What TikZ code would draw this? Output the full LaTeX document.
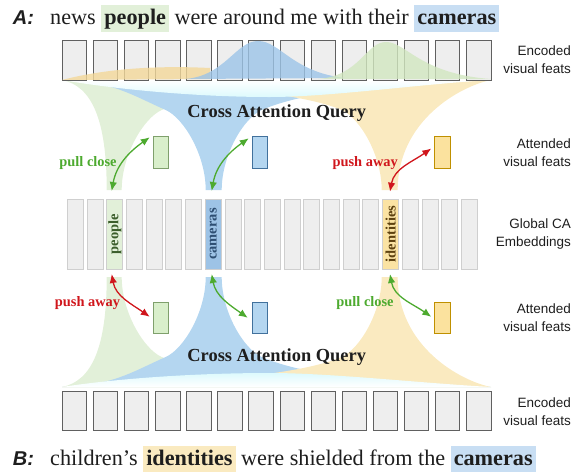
\documentclass[tikz,border=0pt]{standalone}
\usepackage{fontspec}
\setmainfont{Liberation Serif}
\setsansfont{Liberation Sans}
\usetikzlibrary{arrows.meta}

\definecolor{boxgray}{HTML}{EEEEEE}
\definecolor{boxline}{HTML}{606060}
\definecolor{caline}{HTML}{CFCFCF}
\definecolor{fangreen}{HTML}{E2F0D9}
\definecolor{fanblue}{HTML}{B4D6F0}
\definecolor{fanyellow}{HTML}{FAEAC0}
\definecolor{lenscyan}{HTML}{DDFAFD}
\definecolor{bumpgreen}{HTML}{D2E7C0}
\definecolor{bumpblue}{HTML}{9CC4E8}
\definecolor{bumpyellow}{HTML}{F3D89A}
\definecolor{hlgreen}{HTML}{E2F0D9}
\definecolor{hlblue}{HTML}{C8DEF3}
\definecolor{hlyellow}{HTML}{FAEAC0}
\definecolor{attgreen}{HTML}{D9EFCB}
\definecolor{attgreenline}{HTML}{7FA06C}
\definecolor{attblue}{HTML}{B4D6F0}
\definecolor{attblueline}{HTML}{41719C}
\definecolor{attyellow}{HTML}{FBE29E}
\definecolor{attyellowline}{HTML}{BF9000}
\definecolor{capeople}{HTML}{E2F0D9}
\definecolor{cacameras}{HTML}{9DC3E6}
\definecolor{caident}{HTML}{FBE3A3}
\definecolor{txpeople}{HTML}{3B5E2B}
\definecolor{txcameras}{HTML}{2E4F73}
\definecolor{txident}{HTML}{5E4210}
\definecolor{pullgreen}{HTML}{4DAA2F}
\definecolor{pushred}{HTML}{D0161C}
\definecolor{inkgray}{HTML}{1E1E1E}

\newcommand{\hlword}[2]{{\setlength{\fboxsep}{3pt}\colorbox{#1}{\rule[-4.2pt]{0pt}{20.7pt}\textbf{#2}}}}

% the three query fans, neck at y=190, base at y=80
\newcommand{\drawfans}{%
  \fill[fangreen] (62,80) .. controls (92,86) and (106.7,120) .. (106.7,190) -- (121.7,190)
    .. controls (121.7,155) and (143.7,118) .. (161.7,110) .. controls (197.7,94) and (326.4,82) .. (491,80) -- cycle;
  \fill[fanblue] (62,80) .. controls (113.8,82) and (129.7,94) .. (165.7,110) .. controls (183.7,118) and (205.7,155) .. (205.7,190)
    -- (221.7,190) .. controls (221.7,155) and (243.7,118) .. (261.7,110) .. controls (297.7,94) and (376.4,82) .. (491,80) -- cycle;
  \fill[fanyellow] (62,80) .. controls (201.9,82) and (305.7,94) .. (341.7,110) .. controls (359.7,118) and (381.7,155) .. (381.7,190)
    -- (397.7,190) .. controls (397.7,120) and (461,86) .. (491,80) -- cycle;
}

\tikzset{
  encbox/.style={rectangle, draw=boxline, fill=boxgray, line width=1pt, minimum width=24.4pt, inner sep=0},
  cabox/.style={rectangle, draw=caline, fill=boxgray, line width=1pt, minimum width=16pt, minimum height=70pt, inner sep=0},
  attbox/.style={rectangle, line width=1pt, minimum width=15.4pt, minimum height=31.5pt, inner sep=0},
  catext/.style={rotate=90, inner sep=0, font=\fontsize{14.5}{14.5}\selectfont\bfseries},
  pulltext/.style={inner sep=0, text=pullgreen, font=\fontsize{14.4}{14.4}\selectfont\bfseries},
  pushtext/.style={inner sep=0, text=pushred, font=\fontsize{14.4}{14.4}\selectfont\bfseries},
  cqtext/.style={inner sep=0, text=inkgray, font=\fontsize{18.4}{18.4}\selectfont\bfseries},
  sidetext/.style={anchor=east, align=right, inner sep=0, text=inkgray, font=\sffamily\fontsize{13.5}{18}\selectfont},
  dbl/.style={{Latex[length=9pt,width=7.5pt]}-{Latex[length=9pt,width=7.5pt]}, line width=1.3pt},
}

\begin{document}
\begin{tikzpicture}[x=1pt, y=-1pt]
  \useasboundingbox (0,0) rectangle (581,472);

  % fans, top and mirrored bottom
  \drawfans
  \begin{scope}[shift={(0,467)}, yscale=-1]
    \drawfans
  \end{scope}
  \shade[top color=white, bottom color=lenscyan] (62,80) -- (491,80) .. controls (420,84) and (330,97) .. (270,97)
    .. controls (200,97) and (120,90) .. (62,80) -- cycle;
  \shade[bottom color=white, top color=lenscyan] (62,387) -- (491,387) .. controls (420,383) and (330,373) .. (270,373)
    .. controls (200,373) and (120,378) .. (62,387) -- cycle;

  % encoded visual feats
  \foreach \i in {1,...,14} {
    \node[encbox, minimum height=40pt] (te\i) at ({74.5+31.1*(\i-1)},60) {};
    \node[encbox, minimum height=39pt] (be\i) at ({74.5+31.1*(\i-1)},411.2) {};
  }
  \fill[bumpyellow, opacity=.8] (62,80) .. controls (100,70) and (150,65) .. (210,68) -- (210,79) -- cycle;
  \fill[bumpblue, opacity=.8] (185,79) .. controls (225,76) and (236,41) .. (258,41) .. controls (280,41) and (292,72) .. (345,78) -- cycle;
  \fill[bumpgreen, opacity=.8] (318,79) .. controls (360,76) and (366,42) .. (386,42) .. controls (406,42) and (420,74) .. (491,79) -- cycle;

  % global CA embeddings
  \foreach \i in {0,...,20} {
    \def\cafill{boxgray}
    \ifnum\i=2 \def\cafill{capeople}\fi
    \ifnum\i=7 \def\cafill{cacameras}\fi
    \ifnum\i=16 \def\cafill{caident}\fi
    \node[cabox, fill=\cafill] (ca\i) at ({75.4+19.7*\i},234) {};
  }
  \node[catext, text=txpeople] (wpeople) at (ca2) {people};
  \node[catext, text=txcameras] (wcameras) at (ca7) {cameras};
  \node[catext, text=txident] (wident) at (ca16) {identities};

  % attended visual feats
  \node[attbox, fill=attgreen, draw=attgreenline] (ag1) at (161,152.5) {};
  \node[attbox, fill=attblue, draw=attblueline] (ab1) at (260,152.5) {};
  \node[attbox, fill=attyellow, draw=attyellowline] (ay1) at (442.5,152.5) {};
  \node[attbox, fill=attgreen, draw=attgreenline] (ag2) at (161,317.8) {};
  \node[attbox, fill=attblue, draw=attblueline] (ab2) at (260,317.8) {};
  \node[attbox, fill=attyellow, draw=attyellowline] (ay2) at (442.5,317.8) {};

  \coordinate (ng1) at (111.7,191);
  \coordinate (nb1) at (211.7,191);
  \coordinate (ny1) at (390,191.7);
  \coordinate (ng2) at (111.7,274);
  \coordinate (nb2) at (211.7,274);
  \coordinate (ny2) at (390,274);

  \draw[dbl, pullgreen] (ng1) to[out=80, in=215] ([xshift=-3pt, yshift=-1pt]ag1.north west);
  \draw[dbl, pullgreen] (nb1) to[out=80, in=215] ([xshift=-3pt, yshift=-2pt]ab1.north west);
  \draw[dbl, pushred] (ny1) to[out=80, in=215] ([xshift=-3pt, yshift=4pt]ay1.west);
  \draw[dbl, pushred] (ng2) to[out=-80, in=145] ([xshift=-3pt, yshift=1pt]ag2.west);
  \draw[dbl, pullgreen] (nb2) to[out=-80, in=145] ([xshift=-4pt]ab2.west);
  \draw[dbl, pullgreen] (ny2) to[out=-80, in=145] ([xshift=-3pt, yshift=1pt]ay2.west);

  \node[pulltext] (pc1) at (88,163) {pull close};
  \node[pushtext] (pa1) at (365.2,163) {push away};
  \node[pushtext] (pa2) at (87.5,303) {push away};
  \node[pulltext] (pc2) at (365,303) {pull close};

  \node[cqtext] (cq1) at (276.7,113.3) {Cross Attention Query};
  \node[cqtext] (cq2) at (276.7,356.7) {Cross Attention Query};

  % row labels
  \node[sidetext] (lenc1) at (571,60) {Encoded\\visual feats};
  \node[sidetext] (latt1) at (571,152.5) {Attended\\visual feats};
  \node[sidetext] (lca) at (571,234) {Global CA\\Embeddings};
  \node[sidetext] (latt2) at (571,317.8) {Attended\\visual feats};
  \node[sidetext] (lenc2) at (571,411.2) {Encoded\\visual feats};

  % sentences
  \node[anchor=base west, inner sep=0, text=inkgray, font=\sffamily\bfseries\itshape\fontsize{20}{20}\selectfont] (labA) at (12.7,24.5) {A:};
  \node[anchor=base west, inner sep=0, text=inkgray, font=\fontsize{22.2}{24}\selectfont] (sentA) at (50,24.5)
    {news \hlword{hlgreen}{people} were around me with their \hlword{hlblue}{cameras}};
  \node[anchor=base west, inner sep=0, text=inkgray, font=\sffamily\bfseries\itshape\fontsize{20}{20}\selectfont] (labB) at (12.7,465) {B:};
  \node[anchor=base west, inner sep=0, text=inkgray, font=\fontsize{22.2}{24}\selectfont] (sentB) at (50,465)
    {children’s \hlword{hlyellow}{identities} were shielded from the \hlword{hlblue}{cameras}};
\end{tikzpicture}
\end{document}
